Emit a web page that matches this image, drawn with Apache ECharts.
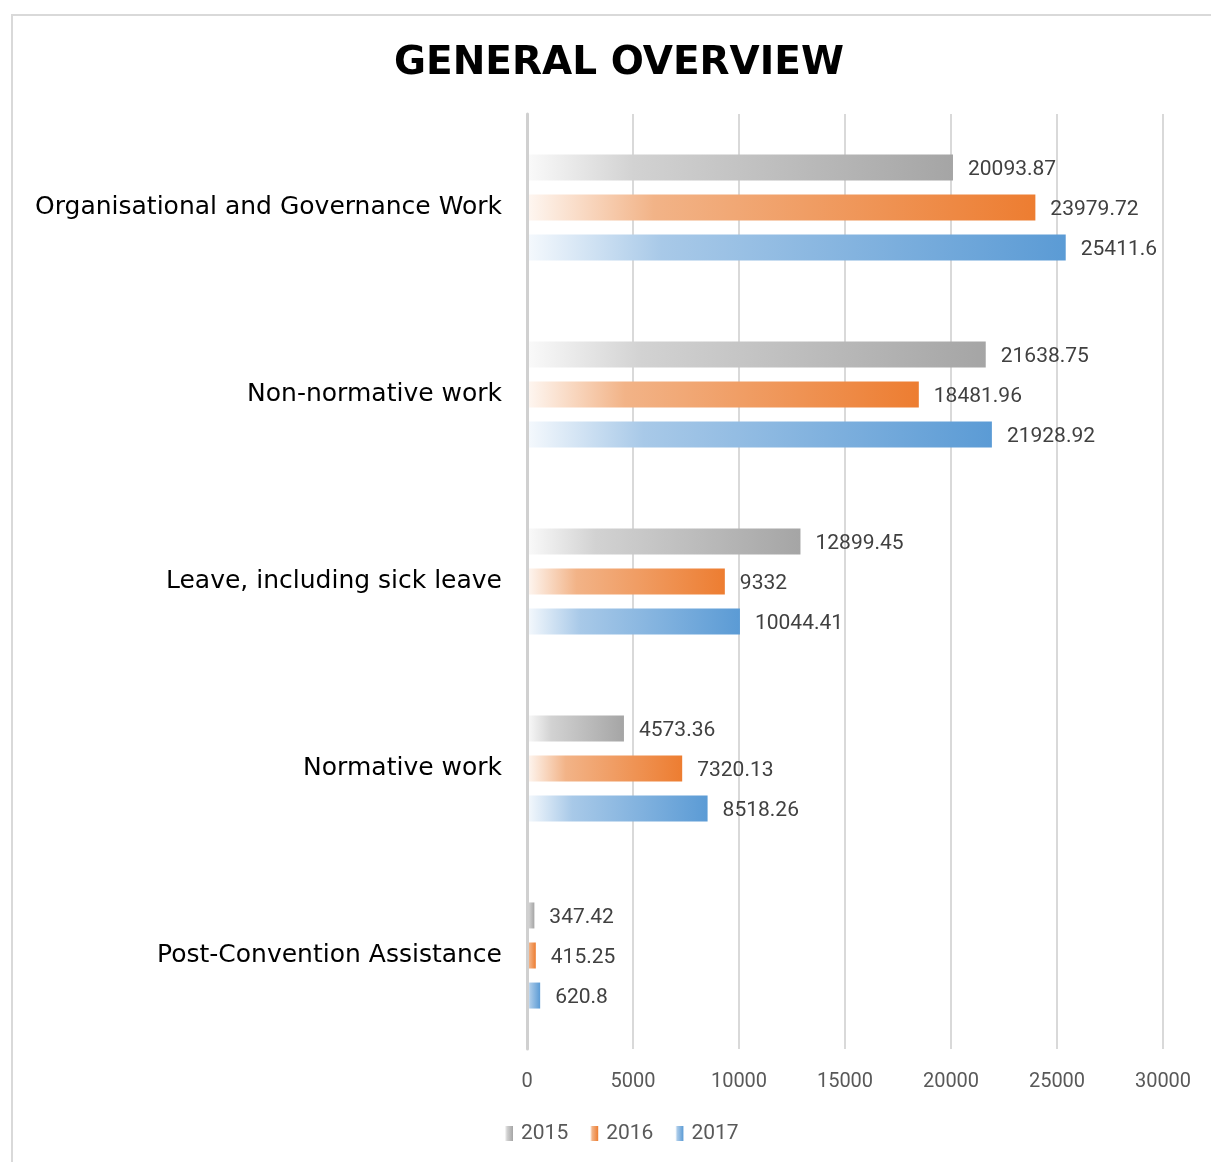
<!DOCTYPE html>
<html>
<head>
<meta charset="utf-8">
<script src="https://cdn.jsdelivr.net/npm/echarts@6/dist/echarts.min.js"></script>
<style>html,body{margin:0;padding:0;background:#fff}#c{width:1211px;height:1162px}</style>
</head>
<body>
<div id="c"></div>
<script>
const categories = ['Organisational and Governance Work', 'Non-normative work', 'Leave, including sick leave', 'Normative work', 'Post-Convention Assistance'];
const seriesNames = ['2015', '2016', '2017'];
const values2015 = [20093.87, 21638.75, 12899.45, 4573.36, 347.42];
const values2016 = [23979.72, 18481.96, 9332, 7320.13, 415.25];
const values2017 = [25411.6, 21928.92, 10044.41, 8518.26, 620.8];
const xTicks = [0, 5000, 10000, 15000, 20000, 25000, 30000];

const palettes = [
  ['#fafafa', '#d2d2d2', '#a5a5a5'],
  ['#fef7f2', '#f2b387', '#ed7d31'],
  ['#f5f9fd', '#a8c9e8', '#5b9bd5']
];
function grad(p) {
  return new echarts.graphic.LinearGradient(0, 0, 1, 0, [
    { offset: 0, color: p[0] },
    { offset: 0.25, color: p[1] },
    { offset: 1, color: p[2] }
  ]);
}
const dataSets = [values2015, values2016, values2017];
const chart = echarts.init(document.getElementById('c'));
chart.setOption({
  backgroundColor: '#ffffff',
  animation: false,
  graphic: [{
    type: 'rect', shape: { x: 12, y: 15, width: 1250, height: 1200 },
    style: { fill: 'none', stroke: '#d9d9d9', lineWidth: 2 }, silent: true
  }],
  title: {
    text: 'GENERAL OVERVIEW', left: 614, top: 39, textAlign: 'center',
    textStyle: { fontFamily: 'DejaVu Sans', fontWeight: 'bold', fontSize: 39, color: '#000' }
  },
  legend: {
    data: seriesNames, bottom: 13, left: 500, itemWidth: 8, itemHeight: 15, itemGap: 22,
    icon: 'rect',
    textStyle: { fontFamily: 'Roboto', fontSize: 21, color: '#595959', padding: [0, 0, 0, 3] }
  },
  grid: { left: 527, right: 48, top: 114, bottom: 113, containLabel: false },
  xAxis: {
    type: 'value', min: 0, max: 30000, interval: 5000,
    axisLine: { show: false }, axisTick: { show: false },
    splitLine: { lineStyle: { color: '#d9d9d9', width: 2 } },
    axisLabel: { fontFamily: 'Roboto', fontSize: 20, color: '#595959', margin: 23,
      formatter: v => xTicks.includes(v) ? String(v) : '' }
  },
  yAxis: {
    type: 'category', data: categories, inverse: true, z: 5,
    axisLine: { lineStyle: { color: '#d0d0d0', width: 3 } }, axisTick: { show: false },
    axisLabel: { fontFamily: 'DejaVu Sans', fontSize: 25, color: '#000', margin: 25 }
  },
  series: seriesNames.map((n, i) => ({
    name: n, type: 'bar', data: dataSets[i], barWidth: 26, barGap: '54%',
    itemStyle: { color: grad(palettes[i]) },
    label: { show: true, position: 'right', distance: 15, offset: [0, 2], fontFamily: 'Roboto', fontSize: 21, color: '#404040' }
  }))
});
</script>
</body>
</html>
